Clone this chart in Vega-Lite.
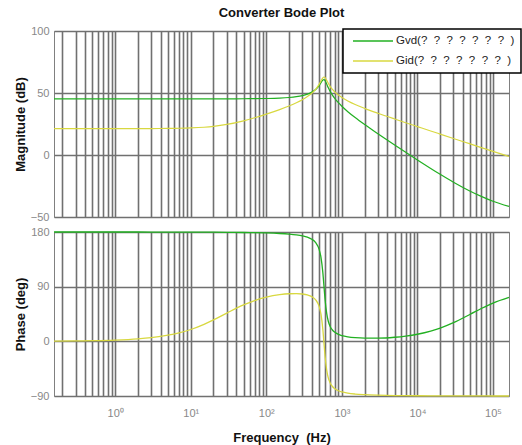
{
  "$schema": "https://vega.github.io/schema/vega-lite/v6.json",
  "padding": {"left": 13, "top": 6, "right": 0, "bottom": 0},
  "background": "white",
  "datasets": {
    "bode": [
      {"f": 0.155, "s": "Gvd(? ? ? ? ? ? ? )", "mag": 45.3, "ph": 180},
      {"f": 0.3, "s": "Gvd(? ? ? ? ? ? ? )", "mag": 45.3, "ph": 180},
      {"f": 0.5, "s": "Gvd(? ? ? ? ? ? ? )", "mag": 45.3, "ph": 180},
      {"f": 1, "s": "Gvd(? ? ? ? ? ? ? )", "mag": 45.3, "ph": 180},
      {"f": 2, "s": "Gvd(? ? ? ? ? ? ? )", "mag": 45.3, "ph": 179.97},
      {"f": 3, "s": "Gvd(? ? ? ? ? ? ? )", "mag": 45.3, "ph": 179.95},
      {"f": 5, "s": "Gvd(? ? ? ? ? ? ? )", "mag": 45.3, "ph": 179.92},
      {"f": 7, "s": "Gvd(? ? ? ? ? ? ? )", "mag": 45.3, "ph": 179.88},
      {"f": 10, "s": "Gvd(? ? ? ? ? ? ? )", "mag": 45.3, "ph": 179.84},
      {"f": 15, "s": "Gvd(? ? ? ? ? ? ? )", "mag": 45.3, "ph": 179.75},
      {"f": 20, "s": "Gvd(? ? ? ? ? ? ? )", "mag": 45.31, "ph": 179.67},
      {"f": 30, "s": "Gvd(? ? ? ? ? ? ? )", "mag": 45.32, "ph": 179.51},
      {"f": 50, "s": "Gvd(? ? ? ? ? ? ? )", "mag": 45.36, "ph": 179.17},
      {"f": 70, "s": "Gvd(? ? ? ? ? ? ? )", "mag": 45.43, "ph": 178.83},
      {"f": 100, "s": "Gvd(? ? ? ? ? ? ? )", "mag": 45.56, "ph": 178.41},
      {"f": 150, "s": "Gvd(? ? ? ? ? ? ? )", "mag": 45.89, "ph": 177.53},
      {"f": 200, "s": "Gvd(? ? ? ? ? ? ? )", "mag": 46.38, "ph": 176.49},
      {"f": 250, "s": "Gvd(? ? ? ? ? ? ? )", "mag": 47.05, "ph": 175.24},
      {"f": 300, "s": "Gvd(? ? ? ? ? ? ? )", "mag": 47.94, "ph": 173.63},
      {"f": 350, "s": "Gvd(? ? ? ? ? ? ? )", "mag": 49.13, "ph": 171.42},
      {"f": 400, "s": "Gvd(? ? ? ? ? ? ? )", "mag": 50.7, "ph": 168.09},
      {"f": 450, "s": "Gvd(? ? ? ? ? ? ? )", "mag": 52.87, "ph": 162.52},
      {"f": 500, "s": "Gvd(? ? ? ? ? ? ? )", "mag": 55.93, "ph": 151.33},
      {"f": 530, "s": "Gvd(? ? ? ? ? ? ? )", "mag": 58.27, "ph": 137.9},
      {"f": 560, "s": "Gvd(? ? ? ? ? ? ? )", "mag": 60.46, "ph": 113.48},
      {"f": 580, "s": "Gvd(? ? ? ? ? ? ? )", "mag": 60.86, "ph": 90.65},
      {"f": 600, "s": "Gvd(? ? ? ? ? ? ? )", "mag": 59.9, "ph": 68.52},
      {"f": 630, "s": "Gvd(? ? ? ? ? ? ? )", "mag": 57.16, "ph": 45.91},
      {"f": 660, "s": "Gvd(? ? ? ? ? ? ? )", "mag": 54.4, "ph": 33.49},
      {"f": 700, "s": "Gvd(? ? ? ? ? ? ? )", "mag": 51.34, "ph": 24.59},
      {"f": 750, "s": "Gvd(? ? ? ? ? ? ? )", "mag": 48.33, "ph": 18.64},
      {"f": 800, "s": "Gvd(? ? ? ? ? ? ? )", "mag": 45.92, "ph": 15.2},
      {"f": 900, "s": "Gvd(? ? ? ? ? ? ? )", "mag": 42.18, "ph": 11.41},
      {"f": 1000, "s": "Gvd(? ? ? ? ? ? ? )", "mag": 39.31, "ph": 9.42},
      {"f": 1200, "s": "Gvd(? ? ? ? ? ? ? )", "mag": 34.93, "ph": 7.35},
      {"f": 1500, "s": "Gvd(? ? ? ? ? ? ? )", "mag": 30.18, "ph": 5.98},
      {"f": 2000, "s": "Gvd(? ? ? ? ? ? ? )", "mag": 24.56, "ph": 5.25},
      {"f": 3000, "s": "Gvd(? ? ? ? ? ? ? )", "mag": 17.1, "ph": 5.27},
      {"f": 5000, "s": "Gvd(? ? ? ? ? ? ? )", "mag": 8.03, "ph": 6.7},
      {"f": 7000, "s": "Gvd(? ? ? ? ? ? ? )", "mag": 2.17, "ph": 8.62},
      {"f": 10000, "s": "Gvd(? ? ? ? ? ? ? )", "mag": -3.97, "ph": 11.65},
      {"f": 15000, "s": "Gvd(? ? ? ? ? ? ? )", "mag": -10.83, "ph": 16.76},
      {"f": 20000, "s": "Gvd(? ? ? ? ? ? ? )", "mag": -15.58, "ph": 21.69},
      {"f": 30000, "s": "Gvd(? ? ? ? ? ? ? )", "mag": -21.96, "ph": 30.65},
      {"f": 50000, "s": "Gvd(? ? ? ? ? ? ? )", "mag": -29.19, "ph": 44.55},
      {"f": 70000, "s": "Gvd(? ? ? ? ? ? ? )", "mag": -33.37, "ph": 54.0},
      {"f": 100000, "s": "Gvd(? ? ? ? ? ? ? )", "mag": -37.31, "ph": 63.04},
      {"f": 163000, "s": "Gvd(? ? ? ? ? ? ? )", "mag": -41.5, "ph": 72.36},
      {"f": 0.155, "s": "Gid(? ? ? ? ? ? ? )", "mag": 21.3, "ph": 0.32},
      {"f": 0.3, "s": "Gid(? ? ? ? ? ? ? )", "mag": 21.3, "ph": 0.61},
      {"f": 0.5, "s": "Gid(? ? ? ? ? ? ? )", "mag": 21.3, "ph": 1.02},
      {"f": 1, "s": "Gid(? ? ? ? ? ? ? )", "mag": 21.31, "ph": 2.05},
      {"f": 2, "s": "Gid(? ? ? ? ? ? ? )", "mag": 21.32, "ph": 4.09},
      {"f": 3, "s": "Gid(? ? ? ? ? ? ? )", "mag": 21.35, "ph": 6.1},
      {"f": 5, "s": "Gid(? ? ? ? ? ? ? )", "mag": 21.44, "ph": 10.04},
      {"f": 7, "s": "Gid(? ? ? ? ? ? ? )", "mag": 21.56, "ph": 13.96},
      {"f": 10, "s": "Gid(? ? ? ? ? ? ? )", "mag": 21.83, "ph": 19.49},
      {"f": 15, "s": "Gid(? ? ? ? ? ? ? )", "mag": 22.4, "ph": 27.93},
      {"f": 20, "s": "Gid(? ? ? ? ? ? ? )", "mag": 23.1, "ph": 35.21},
      {"f": 30, "s": "Gid(? ? ? ? ? ? ? )", "mag": 24.64, "ph": 46.48},
      {"f": 50, "s": "Gid(? ? ? ? ? ? ? )", "mag": 27.58, "ph": 59.92},
      {"f": 70, "s": "Gid(? ? ? ? ? ? ? )", "mag": 30.03, "ph": 67.03},
      {"f": 100, "s": "Gid(? ? ? ? ? ? ? )", "mag": 32.94, "ph": 72.66},
      {"f": 150, "s": "Gid(? ? ? ? ? ? ? )", "mag": 36.62, "ph": 76.79},
      {"f": 200, "s": "Gid(? ? ? ? ? ? ? )", "mag": 39.54, "ph": 78.3},
      {"f": 250, "s": "Gid(? ? ? ? ? ? ? )", "mag": 42.12, "ph": 78.57},
      {"f": 300, "s": "Gid(? ? ? ? ? ? ? )", "mag": 44.58, "ph": 77.96},
      {"f": 350, "s": "Gid(? ? ? ? ? ? ? )", "mag": 47.09, "ph": 76.44},
      {"f": 400, "s": "Gid(? ? ? ? ? ? ? )", "mag": 49.82, "ph": 73.64},
      {"f": 450, "s": "Gid(? ? ? ? ? ? ? )", "mag": 53.0, "ph": 68.44},
      {"f": 500, "s": "Gid(? ? ? ? ? ? ? )", "mag": 56.98, "ph": 57.56},
      {"f": 530, "s": "Gid(? ? ? ? ? ? ? )", "mag": 59.83, "ph": 44.28},
      {"f": 560, "s": "Gid(? ? ? ? ? ? ? )", "mag": 62.2, "ph": 19.99},
      {"f": 580, "s": "Gid(? ? ? ? ? ? ? )", "mag": 62.9, "ph": -2.76},
      {"f": 600, "s": "Gid(? ? ? ? ? ? ? )", "mag": 62.3, "ph": -24.82},
      {"f": 630, "s": "Gid(? ? ? ? ? ? ? )", "mag": 60.21, "ph": -47.35},
      {"f": 660, "s": "Gid(? ? ? ? ? ? ? )", "mag": 57.86, "ph": -59.68},
      {"f": 700, "s": "Gid(? ? ? ? ? ? ? )", "mag": 55.31, "ph": -68.49},
      {"f": 750, "s": "Gid(? ? ? ? ? ? ? )", "mag": 52.9, "ph": -74.34},
      {"f": 800, "s": "Gid(? ? ? ? ? ? ? )", "mag": 51.04, "ph": -77.7},
      {"f": 900, "s": "Gid(? ? ? ? ? ? ? )", "mag": 48.33, "ph": -81.38},
      {"f": 1000, "s": "Gid(? ? ? ? ? ? ? )", "mag": 46.38, "ph": -83.3},
      {"f": 1200, "s": "Gid(? ? ? ? ? ? ? )", "mag": 43.6, "ph": -85.34},
      {"f": 1500, "s": "Gid(? ? ? ? ? ? ? )", "mag": 40.75, "ph": -86.77},
      {"f": 2000, "s": "Gid(? ? ? ? ? ? ? )", "mag": 37.63, "ph": -87.8},
      {"f": 3000, "s": "Gid(? ? ? ? ? ? ? )", "mag": 33.68, "ph": -88.63},
      {"f": 5000, "s": "Gid(? ? ? ? ? ? ? )", "mag": 29.03, "ph": -89.22},
      {"f": 7000, "s": "Gid(? ? ? ? ? ? ? )", "mag": 26.05, "ph": -89.43},
      {"f": 10000, "s": "Gid(? ? ? ? ? ? ? )", "mag": 22.93, "ph": -89.6},
      {"f": 15000, "s": "Gid(? ? ? ? ? ? ? )", "mag": 19.39, "ph": -89.72},
      {"f": 20000, "s": "Gid(? ? ? ? ? ? ? )", "mag": 16.88, "ph": -89.78},
      {"f": 30000, "s": "Gid(? ? ? ? ? ? ? )", "mag": 13.35, "ph": -89.85},
      {"f": 50000, "s": "Gid(? ? ? ? ? ? ? )", "mag": 8.92, "ph": -89.92},
      {"f": 70000, "s": "Gid(? ? ? ? ? ? ? )", "mag": 5.99, "ph": -89.94},
      {"f": 100000, "s": "Gid(? ? ? ? ? ? ? )", "mag": 2.9, "ph": -89.96},
      {"f": 163000, "s": "Gid(? ? ? ? ? ? ? )", "mag": -1.19, "ph": -89.98}
    ]
  },
  "data": {"name": "bode"},
  "spacing": 15,
  "bounds": "flush",
  "vconcat": [
    {
      "width": 455,
      "height": 186,
      "title": {"text": "Converter Bode Plot", "fontSize": 13, "fontWeight": "bold", "color": "#111111", "offset": 5, "anchor": "middle"},
      "mark": {"type": "line", "strokeWidth": 1.2, "interpolate": "monotone"},
      "encoding": {
        "x": {
          "field": "f", "type": "quantitative",
          "scale": {"type": "log", "domain": [0.155, 163000], "nice": false},
          "axis": {"title": null, "labels": false, "grid": true,
            "values": [0.2,0.3,0.4,0.5,0.6,0.7,0.8,0.9,1,2,3,4,5,6,7,8,9,10,20,30,40,50,60,70,80,90,100,200,300,400,500,600,700,800,900,1000,2000,3000,4000,5000,6000,7000,8000,9000,10000,20000,30000,40000,50000,60000,70000,80000,90000,100000]}
        },
        "y": {
          "field": "mag", "type": "quantitative",
          "scale": {"domain": [-50, 100], "nice": false, "zero": false},
          "axis": {"title": "Magnitude (dB)", "values": [-50, 0, 50, 100]}
        },
        "color": {
          "field": "s", "type": "nominal",
          "scale": {"domain": ["Gvd(? ? ? ? ? ? ? )", "Gid(? ? ? ? ? ? ? )"], "range": ["#22b022", "#d8d840"]},
          "legend": {"orient": "none", "legendX": 289, "legendY": -2, "title": null,
            "symbolType": "M-4,0H4", "symbolSize": 100, "symbolStrokeWidth": 1.5, "symbolOffset": 18,
            "labelOffset": 17, "labelFontSize": 11.5, "labelColor": "#222222",
            "labelExpr": "datum.label == 'Gvd(? ? ? ? ? ? ? )' ? 'Gvd(?\u00a0 ?\u00a0 ?\u00a0 ?\u00a0 ?\u00a0 ?\u00a0 ?\u00a0 )' : 'Gid(?\u00a0 ?\u00a0 ?\u00a0 ?\u00a0 ?\u00a0 ?\u00a0 ?\u00a0 )'",
            "padding": 6, "rowPadding": 8, "strokeColor": "#000000", "fillColor": "#ffffff"}
        }
      }
    },
    {
      "width": 455,
      "height": 164,
      "mark": {"type": "line", "strokeWidth": 1.3, "interpolate": "monotone"},
      "encoding": {
        "x": {
          "field": "f", "type": "quantitative",
          "scale": {"type": "log", "domain": [0.155, 163000], "nice": false},
          "axis": {"title": "Frequency\u00a0 (Hz)", "grid": true, "labelPadding": 11, "titlePadding": 13,
            "values": [0.2,0.3,0.4,0.5,0.6,0.7,0.8,0.9,1,2,3,4,5,6,7,8,9,10,20,30,40,50,60,70,80,90,100,200,300,400,500,600,700,800,900,1000,2000,3000,4000,5000,6000,7000,8000,9000,10000,20000,30000,40000,50000,60000,70000,80000,90000,100000],
            "labelExpr": "datum.value == 1 ? '10⁰' : datum.value == 10 ? '10¹' : datum.value == 100 ? '10²' : datum.value == 1000 ? '10³' : datum.value == 10000 ? '10⁴' : datum.value == 100000 ? '10⁵' : ''"}
        },
        "y": {
          "field": "ph", "type": "quantitative",
          "scale": {"domain": [-90, 180], "nice": false, "zero": false},
          "axis": {"title": "Phase (deg)", "values": [-90, 0, 90, 180]}
        },
        "color": {
          "field": "s", "type": "nominal",
          "scale": {"domain": ["Gvd(? ? ? ? ? ? ? )", "Gid(? ? ? ? ? ? ? )"], "range": ["#22b022", "#d8d840"]},
          "legend": null
        }
      }
    }
  ],
  "resolve": {"legend": {"color": "independent"}},
  "config": {
    "font": "Liberation Sans",
    "view": {"stroke": "#808080", "strokeWidth": 1},
    "axis": {
      "gridColor": "#707070", "gridWidth": 1.6, "gridOpacity": 1,
      "domain": false, "ticks": false,
      "labelColor": "#888888", "labelFontSize": 11, "labelPadding": 5,
      "titleFontSize": 13, "titleFontWeight": "bold", "titleColor": "#111111", "titlePadding": 3
    },
    "legend": {"strokeWidth": 1.5}
  }
}
